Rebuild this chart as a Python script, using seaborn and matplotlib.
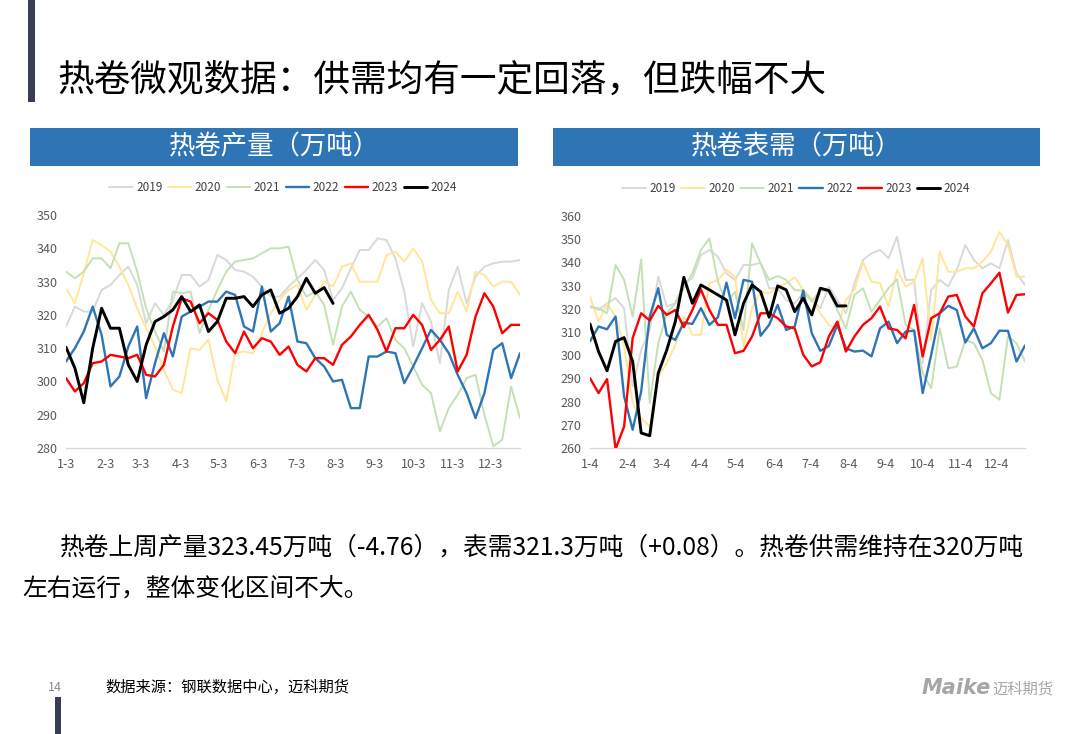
import numpy as np
import pandas as pd
import matplotlib
matplotlib.use("Agg")
import matplotlib.pyplot as plt
import seaborn as sns
from matplotlib.patches import Rectangle

# Series (weekly, 万吨)
years = ["2019", "2020", "2021", "2022", "2023", "2024"]
colors = {"2019": "#d9d9d9", "2020": "#ffe699", "2021": "#c5e0b4",
          "2022": "#2e75b6", "2023": "#ff0000", "2024": "#000000"}
widths = {"2019": 1.4, "2020": 1.4, "2021": 1.4, "2022": 1.7, "2023": 1.7, "2024": 2.1}

output_2019 = [316.5, 322.5, 321, 321, 327.5, 329, 332, 334.5, 329, 317.5, 323.5, 320, 324.5, 332, 332, 328.5,
               330.5, 338, 336.5, 333.5, 333, 331.5, 328.5, 325.5, 325.5, 328.5, 331, 333.5, 336.5, 333.5, 324.5,
               328, 334, 339.5, 339.5, 343, 342.5, 337, 327, 310.5, 323.5, 318, 305.5, 327.5, 334.5, 323.5, 331.5,
               334.5, 335.5, 336, 336, 336.5]
output_2020 = [328, 323.5, 332.5, 342.5, 341, 339, 334.5, 329, 322, 316, 310.5, 303.5, 297.5, 296.5, 310, 309.5,
               312.5, 300.5, 294, 308.5, 309, 308.5, 314.5, 320.5, 324.5, 327.5, 329, 321.5, 326, 330, 328.5, 334.5,
               335.5, 330, 330, 330, 338, 339, 336, 340, 336, 324.5, 320.5, 320.5, 327, 321, 333, 332, 328.5, 330,
               330, 326]
output_2021 = [333, 331, 333, 337, 337, 334, 341.5, 341.5, 333, 322, 315, 309, 327, 326.5, 327, 314.5, 321.5,
               327.5, 333, 336, 336.5, 337, 338.5, 340, 340, 340.5, 330.5, 325.5, 327, 323, 311, 322.5, 327, 321.5,
               319.5, 316.5, 319, 312.5, 310, 304.5, 299, 296.5, 285, 292, 296, 301, 302, 290, 280.5, 282.5, 298.5,
               289]
output_2022 = [306, 310, 315, 322.5, 314, 298.5, 301.5, 310.5, 316.5, 295, 305.5, 314.5, 307.5, 319.5, 321, 322.5,
               324, 324, 327, 326, 316.5, 315, 328.5, 315, 317.5, 325.5, 312, 311.5, 307, 304.5, 300, 300.5, 292, 292,
               307.5, 307.5, 309, 308.5, 299.5, 304.5, 310, 315.5, 312.5, 308.5, 302, 296.5, 289, 296.5, 309.5,
               311.5, 301, 308.5]
output_2023 = [301, 297, 299.5, 305.5, 306, 308, 307.5, 307, 308, 302, 301.5, 305, 316.5, 325, 324, 317.5, 320.5,
               318.5, 312, 308.5, 315, 310, 313, 312, 308, 310.5, 305, 303, 307, 307, 305, 311, 313.5, 317, 320,
               315.5, 309, 316, 316, 320, 317, 309.5, 312.5, 316.5, 303, 308, 319.5, 326.5, 322.5, 314.5, 317, 317]
output_2024 = [310.3, 304, 293.6, 310, 322, 316, 316, 305, 300, 311, 318, 319.5, 321.5, 325.5, 321, 323, 315, 318,
               325, 325, 325.5, 322.5, 326, 327.5, 320.5, 322, 325.5, 331, 326.5, 328.21, 323.45]

demand_2019 = [321.3, 319.5, 322.4, 324.6, 320.3, 286.5, 302.3, 310.9, 333.9, 321, 322.4, 331, 333.2, 343.2, 345.4,
               342.5, 335.3, 332.5, 338.9, 338.9, 339.9, 328.9, 328.9, 323.8, 322.4, 326.7, 323.8, 320.3, 329.6,
               323.8, 318.1, 331, 341.1, 343.9, 345.4, 341.8, 351.1, 332.5, 332.5, 296.6, 328.1, 332.5, 329.6, 336.8,
               347.5, 341.1, 337.5, 339.6, 337.5, 349.7, 335.3, 330.3]
demand_2020 = [325.3, 314.5, 322.1, 316.7, 303.8, 279.4, 272.9, 269.3, 290.8, 296.6, 304.5, 316.7, 308.8, 308.8, 331,
               332.5, 336.8, 333.9, 303.8, 320.3, 327.4, 326.7, 329.6, 331, 333.6, 328.1, 324.6, 318.1, 313.1, 311.6,
               323.8, 328.1, 340.3, 331.7, 331, 321, 336.8, 329.6, 331.7, 341.8, 306.6, 344.6, 336, 336, 337.5, 337.5,
               340.3, 344.6, 353.3, 347.5, 333.9, 333.9]
demand_2021 = [320.7, 320.3, 318.1, 338.9, 332.5, 316.7, 341.3, 279.4, 305.2, 318.1, 322.4, 328.9, 335.3, 345.4,
               350.4, 331.7, 322.4, 327.4, 310.9, 348.2, 339.6, 332.5, 334.2, 332.5, 328.1, 327.9, 323.1, 328.1, 327.4,
               319.5, 311.6, 326, 328.9, 318.8, 323.8, 328.9, 332.7, 313.1, 310.9, 292.3, 285.8, 311.6, 294.4, 295.1,
               306.6, 305.2, 298, 283.7, 280.8, 308.1, 305.2, 297.3]
demand_2022 = [306, 312.4, 311.2, 316.7, 282.2, 267.9, 284.4, 316.7, 328.9, 308.8, 306.6, 314.1, 313.5, 320.3, 313.1,
               316.4, 331.3, 316, 332.5, 331.7, 308.4, 313.1, 321.7, 310.9, 312.4, 327.9, 309.5, 301.9, 304, 313.1,
               303, 301.6, 302, 299.5, 311.6, 314.5, 305.2, 310.2, 310.6, 283.7, 300.2, 318.1, 321.3, 319.5, 305.5,
               311.6, 303, 305.2, 310.6, 310.5, 297.3, 304.2]
demand_2023 = [290.1, 283.7, 289.7, 259.6, 269.3, 307.4, 318.1, 315, 321.3, 317.4, 319.5, 312.1, 319.5, 328.4, 319.5,
               313.1, 313.1, 300.9, 301.9, 308.1, 318.1, 318.1, 316, 312.4, 311.6, 300.2, 295.2, 297, 308.1, 314.5,
               301.6, 308.1, 313.1, 316, 321, 311.6, 310.9, 307.3, 321.7, 299.5, 316, 318.1, 325.3, 326, 316.7, 312.4,
               326.7, 331, 335.6, 318.4, 326, 326.3]
demand_2024 = [313.5, 301.6, 293.3, 306, 307.6, 297.3, 266.5, 265.3, 292.3, 302.3, 314.5, 333.6, 322.4, 330.3, 328.2,
               326, 323.8, 308.8, 322.4, 330.3, 327.4, 316.4, 329.9, 328.2, 318.8, 324.6, 317.4, 328.9, 327.9, 321.22,
               321.3]

output_series = dict(zip(years, [output_2019, output_2020, output_2021, output_2022, output_2023, output_2024]))
demand_series = dict(zip(years, [demand_2019, demand_2020, demand_2021, demand_2022, demand_2023, demand_2024]))

title = "热卷微观数据：供需均有一定回落，但跌幅不大"
body_1 = "热卷上周产量323.45万吨（-4.76），表需321.3万吨（+0.08）。热卷供需维持在320万吨"
body_2 = "左右运行，整体变化区间不大。"


def to_long(series, start):
    # weekly dates on a dummy (non leap) year, only month-day is shown
    dates = pd.date_range(start, periods=52, freq="7D")
    frames = []
    for year, values in series.items():
        frames.append(pd.DataFrame({"date": dates[:len(values)], "value": values, "year": year}))
    return pd.concat(frames, ignore_index=True), dates


def draw_panel(ax, series, day, ylim, yticks):
    df, dates = to_long(series, f"2023-01-{day:02d}")
    for i, year in enumerate(years):
        sub = df[df["year"] == year]
        sns.lineplot(data=sub, x="date", y="value", color=colors[year], linewidth=widths[year],
                     label=year, ax=ax, zorder=2 + i)
    ticks = [pd.Timestamp(f"2023-{m:02d}-{day:02d}") for m in range(1, 13)]
    ax.set_xticks(ticks)
    ax.set_xticklabels([f"{m}-{day}" for m in range(1, 13)])
    ax.set_xlim(dates[0], dates[-1])
    ax.set_ylim(*ylim)
    ax.set_yticks(yticks)
    ax.set_xlabel("")
    ax.set_ylabel("")
    for side in ["top", "right", "left"]:
        ax.spines[side].set_visible(False)
    ax.spines["bottom"].set_color("#d9d9d9")
    ax.spines["bottom"].set_linewidth(1.0)
    ax.tick_params(axis="x", length=4, color="#d9d9d9", labelsize=9, labelcolor="#595959", pad=3)
    ax.tick_params(axis="y", length=0, labelsize=9, labelcolor="#595959", pad=6)


sns.set_style("white")
plt.rcParams["font.family"] = ["Noto Sans CJK SC", "DejaVu Sans"]

fig = plt.figure(figsize=(10.8, 7.34), dpi=100)

# decorative bars
fig.add_artist(Rectangle((0.0259, 0.861), 0.0065, 0.139, transform=fig.transFigure, color="#3a3d56", lw=0))
fig.add_artist(Rectangle((0.0509, 0.0), 0.0056, 0.0504, transform=fig.transFigure, color="#3a3d56", lw=0))

fig.text(0.0528, 0.891, title, fontsize=26.4, color="#000000", ha="left", va="center")

# panel headers
fig.add_artist(Rectangle((0.0278, 0.7738), 0.4519, 0.0518, transform=fig.transFigure, color="#2e75b6", lw=0))
fig.add_artist(Rectangle((0.512, 0.7738), 0.4509, 0.0518, transform=fig.transFigure, color="#2e75b6", lw=0))
fig.text(0.2537, 0.7997, "热卷产量（万吨）", fontsize=19, color="white", ha="center", va="center")
fig.text(0.7375, 0.7997, "热卷表需（万吨）", fontsize=19, color="white", ha="center", va="center")

ax1 = fig.add_axes([0.0611, 0.3896, 0.4204, 0.3174])
ax2 = fig.add_axes([0.5463, 0.3896, 0.4028, 0.3160])

draw_panel(ax1, output_series, 3, (280, 350), np.arange(280, 351, 10))
draw_panel(ax2, demand_series, 4, (260, 360), np.arange(260, 361, 10))

for ax, cx in [(ax1, 0.478), (ax2, 0.474)]:
    ax.legend(loc="center", bbox_to_anchor=(cx, 1.118), ncol=6, frameon=False, fontsize=8.5,
              handlelength=2.0, handletextpad=0.3, columnspacing=0.45, labelcolor="#404040")

fig.text(0.0556, 0.2534, body_1, fontsize=17.8, color="#000000", ha="left", va="center")
fig.text(0.0204, 0.1962, body_2, fontsize=17.8, color="#000000", ha="left", va="center")

fig.text(0.0509, 0.064, "14", fontsize=9, color="#8c8c8c", ha="center", va="center")
fig.text(0.0972, 0.064, "数据来源：钢联数据中心，迈科期货", fontsize=11, color="#000000", ha="left", va="center")
fig.text(0.917, 0.062, "Maike", fontsize=15, color="#a6a6a6", fontweight="bold", style="italic",
         ha="right", va="center", family=["DejaVu Sans"])
fig.text(0.919, 0.062, "迈科期货", fontsize=11, color="#a6a6a6", ha="left", va="center")

fig.savefig("out.png", dpi=100)
